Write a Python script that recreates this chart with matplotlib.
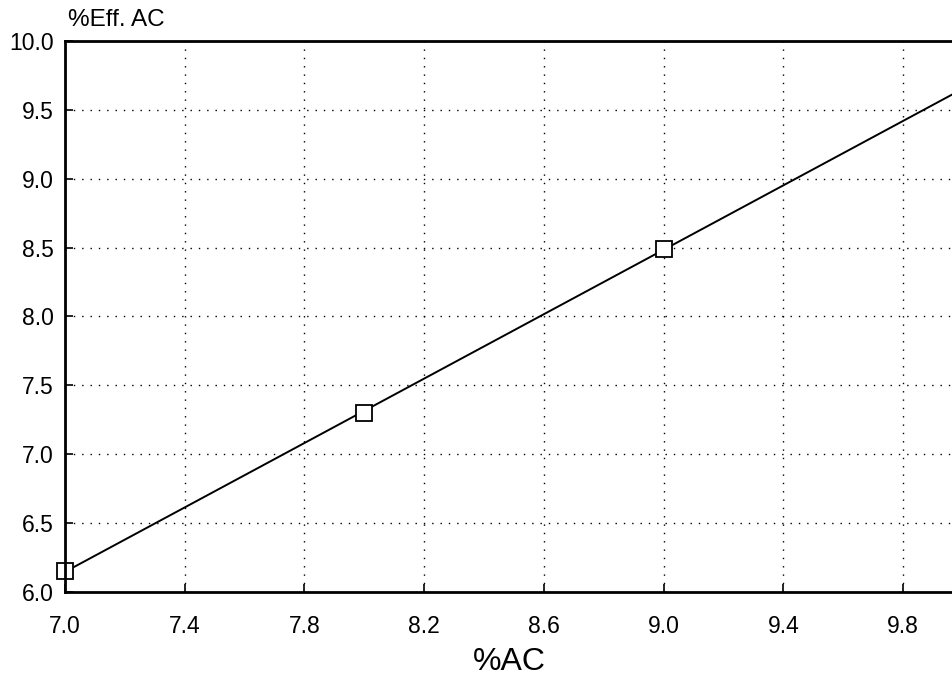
import numpy as np
import matplotlib
matplotlib.use("Agg")
import matplotlib.pyplot as plt

# measured points
ac = [7.0, 8.0, 9.0]
eff_ac = [6.15, 7.30, 8.49]

x_ticks = [7.0, 7.4, 7.8, 8.2, 8.6, 9.0, 9.4, 9.8]
y_ticks = [6.0, 6.5, 7.0, 7.5, 8.0, 8.5, 9.0, 9.5, 10.0]

plt.rcParams['font.family'] = ['Liberation Sans', 'DejaVu Sans']

fig = plt.figure(figsize=(9.53, 6.84), dpi=100)
ax = fig.add_axes([0.068, 0.135, 0.932, 0.805])

# least squares line through the points
slope, icpt = np.polyfit(ac, eff_ac, 1)
xfit = np.array([7.0, 10.0])
ax.plot(xfit, slope * xfit + icpt, '-', color='black', lw=1.4)
ax.plot(ac, eff_ac, 's', ms=11, mfc='white', mec='black', mew=1.3, clip_on=False)

ax.set_xlim(7.0, 9.967)
ax.set_ylim(6.0, 10.0)
ax.set_xticks(x_ticks)
ax.set_yticks(y_ticks)
ax.set_xticklabels(['%.1f' % v for v in x_ticks])
ax.set_yticklabels(['%.1f' % v for v in y_ticks])

ax.grid(True, color='black', linestyle=(0, (1, 5)), lw=1.0)
ax.tick_params(direction='in', length=6, width=1.2, labelsize=16.5, colors='black')
ax.tick_params(axis='x', pad=17)
ax.tick_params(axis='y', pad=8)

for s in ['left', 'bottom', 'top']:
    ax.spines[s].set_linewidth(2.0)
ax.spines['right'].set_visible(False)

ax.set_xlabel('%AC', fontsize=23, labelpad=6)
fig.text(0.071, 0.962, '%Eff. AC', fontsize=17.5, ha='left', va='baseline')

fig.savefig('out.png', dpi=100)
